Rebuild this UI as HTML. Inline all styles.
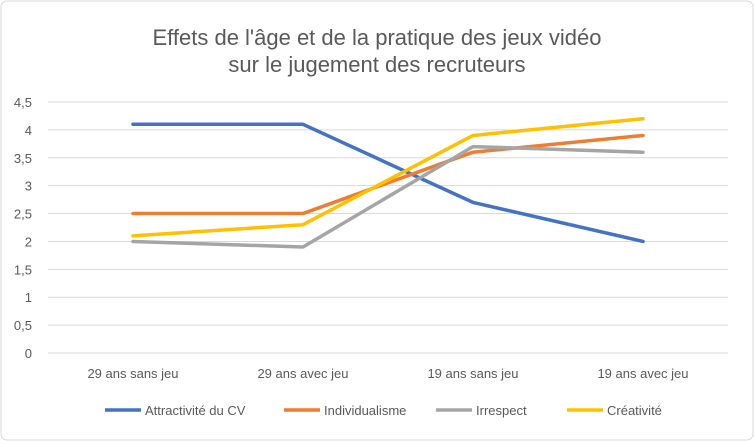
<!DOCTYPE html>
<html><head><meta charset="utf-8"><style>
body{margin:0;background:#fff;}
svg{display:block;font-family:"Liberation Sans",sans-serif;}
</style></head><body>
<svg id="c" width="754" height="441">
<rect x="1" y="1" width="752" height="439" rx="6" fill="#fff" stroke="#d9d9d9"/>
<text x="377" y="45" text-anchor="middle" font-size="22" fill="#595959">Effets de l'âge et de la pratique des jeux vidéo</text>
<text x="377" y="72" text-anchor="middle" font-size="22" fill="#595959">sur le jugement des recruteurs</text>
<g id="grid"></g><g id="yt"></g><g id="xt"></g><g id="lines"></g><g id="legend"></g>
</svg>
<script>
const categories=["29 ans sans jeu","29 ans avec jeu","19 ans sans jeu","19 ans avec jeu"];
const yTicks=[0,0.5,1,1.5,2,2.5,3,3.5,4,4.5];
const yTickLabels=["0","0,5","1","1,5","2","2,5","3","3,5","4","4,5"];
const seriesNames=["Attractivité du CV","Individualisme","Irrespect","Créativité"];
const attractivite=[4.1,4.1,2.7,2.0];
const individualisme=[2.5,2.5,3.6,3.9];
const irrespect=[2.0,1.9,3.7,3.6];
const creativite=[2.1,2.3,3.9,4.2];
const seriesData=[attractivite,individualisme,irrespect,creativite];
const colors=["#4472c4","#ed7d31","#a5a5a5","#ffc000"];
const NS="http://www.w3.org/2000/svg";
const L=48,R=728,T=102,B=353;
const y=v=>B-(v/4.5)*(B-T);
const bw=(R-L)/categories.length;
const x=i=>L+bw*(i+0.5);
function mk(tag,attrs,parent){const e=document.createElementNS(NS,tag);for(const k in attrs)e.setAttribute(k,attrs[k]);parent.appendChild(e);return e;}
const grid=document.getElementById('grid'),yt=document.getElementById('yt'),xt=document.getElementById('xt'),lines=document.getElementById('lines'),lg=document.getElementById('legend');
yTicks.forEach((v,i)=>{
 const g=mk('line',{x1:L,x2:R,y1:y(v),y2:y(v),stroke:'#d9d9d9','stroke-width':1},grid);
 
 
 const t=mk('text',{x:32,y:y(v)+5,'text-anchor':'end','font-size':13,fill:'#595959'},yt);
 t.textContent=yTickLabels[i];
 
 
});
categories.forEach((c,i)=>{
 const t=mk('text',{x:x(i),y:378,'text-anchor':'middle','font-size':13,fill:'#595959'},xt);
 t.textContent=c;
 
 
});
seriesData.forEach((d,s)=>{
 const p=mk('polyline',{points:d.map((v,i)=>x(i)+','+y(v)).join(' '),fill:'none',stroke:colors[s],'stroke-width':3.5,'stroke-linejoin':'round','stroke-linecap':'round'},lines);
 
 
});
const lx=[105,284,436,567];
seriesNames.forEach((n,s)=>{
 const g=mk('g',{},lg);
 
 
 mk('line',{x1:lx[s],x2:lx[s]+36,y1:410,y2:410,stroke:colors[s],'stroke-width':3.5},g);
 const t=mk('text',{x:lx[s]+40,y:415,'font-size':13,fill:'#595959'},g);
 t.textContent=n;
});
</script>
</body></html>
